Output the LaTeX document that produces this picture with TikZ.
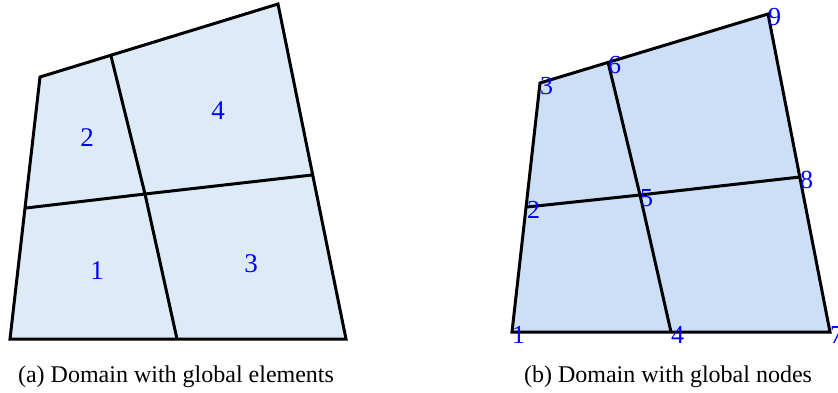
\documentclass[tikz,border=0pt]{standalone}
\usepackage{fontspec}
\setmainfont{Liberation Serif}
\usetikzlibrary{positioning}
\definecolor{elemfill}{RGB}{221,235,248}
\definecolor{nodefill}{RGB}{204,223,246}

\begin{document}
\begin{tikzpicture}[x=1pt, y=-1pt,
		edge/.style={line width=3pt},
		elnum/.style={text=blue, font=\fontsize{27}{27}\selectfont},
		ndnum/.style={text=blue, font=\fontsize{26}{26}\selectfont, anchor=west, inner sep=0pt, yshift=-3pt},
		caption/.style={font=\fontsize{24}{24}\selectfont}]
			\useasboundingbox (0,0) rectangle (838,393);
			% (a) global elements
			\coordinate (a1) at (10,339);
			\coordinate (a2) at (26,208);
			\coordinate (a3) at (40,77);
			\coordinate (a4) at (177,339);
			\coordinate (a5) at (145,194);
			\coordinate (a6) at (111,56);
			\coordinate (a7) at (346,339);
			\coordinate (a8) at (312,175);
			\coordinate (a9) at (278,4);
			\fill [elemfill] (a1) -- (a7) -- (a9) -- (a3) -- cycle;
			\draw [edge] (a2) -- (a5) -- (a8);
			\draw [edge] (a4) -- (a5) -- (a6);
			\draw [edge] (a1) -- (a7) -- (a9) -- (a3) -- cycle;
			\node [elnum] (e1) at (97,271) {1};
			\node [elnum] (e2) at (87,138) {2};
			\node [elnum] (e3) at (251,264) {3};
			\node [elnum] (e4) at (218,111) {4};
			\node [caption] (capa) at (176,377) {(a) Domain with global elements};
			
			% (b) global nodes
			\coordinate (b1) at (512,332);
			\coordinate (b2) at (527,207);
			\coordinate (b3) at (540,83);
			\coordinate (b4) at (671,332);
			\coordinate (b5) at (640,195);
			\coordinate (b6) at (608,62);
			\coordinate (b7) at (830,332);
			\coordinate (b8) at (800,177);
			\coordinate (b9) at (768,14);
			\fill [nodefill] (b1) -- (b7) -- (b9) -- (b3) -- cycle;
			\draw [edge] (b2) -- (b5) -- (b8);
			\draw [edge] (b4) -- (b5) -- (b6);
			\draw [edge] (b1) -- (b7) -- (b9) -- (b3) -- cycle;
			\foreach \i in {1,...,9}
				\node [ndnum] (n\i) at (b\i) {\i};
			\node [caption] (capb) at (668,377) {(b) Domain with global nodes};
		\end{tikzpicture}
\end{document}
